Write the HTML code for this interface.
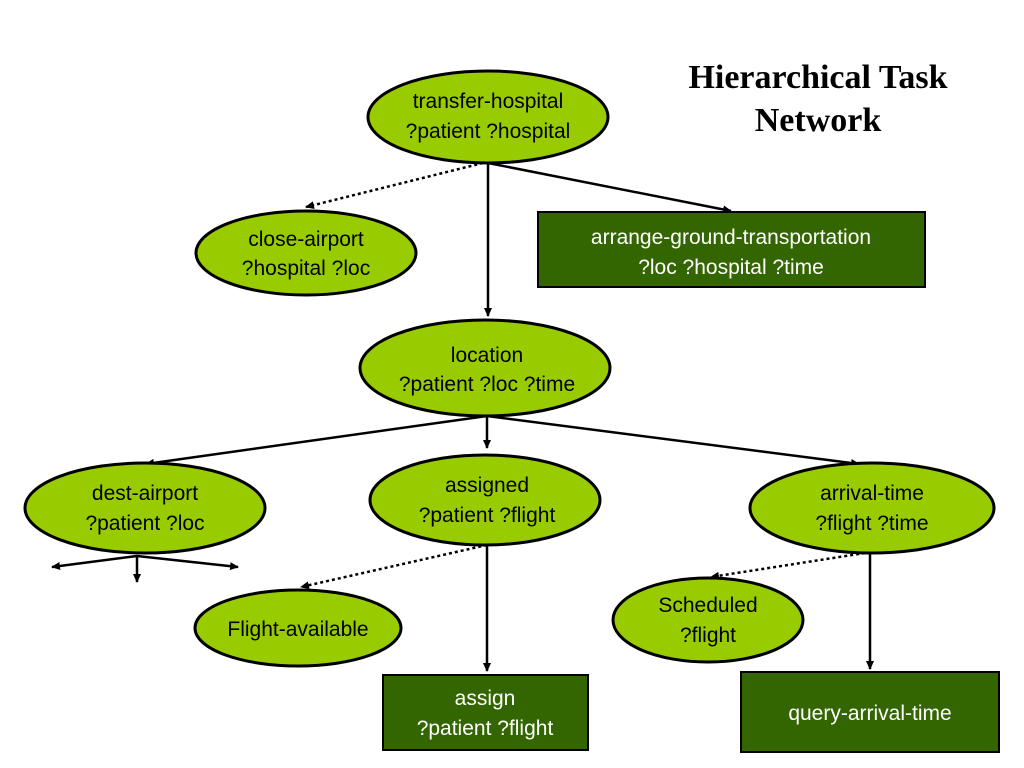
<!DOCTYPE html>
<html><head><meta charset="utf-8"><style>html,body{margin:0;padding:0;background:#fff}svg{display:block}</style></head>
<body>
<svg width="1024" height="768" viewBox="0 0 1024 768" xmlns="http://www.w3.org/2000/svg">
<defs>
<marker id="a" markerWidth="10" markerHeight="10" refX="8" refY="5" orient="auto" markerUnits="userSpaceOnUse"><path d="M0,1 L9,5 L0,9 z" fill="#000"/></marker>
</defs>
<text x="818" y="88" font-family="Liberation Serif, serif" font-weight="bold" font-size="34" text-anchor="middle">Hierarchical Task</text>
<text x="818" y="131" font-family="Liberation Serif, serif" font-weight="bold" font-size="34" text-anchor="middle">Network</text>
<g stroke="#000" stroke-width="2.5" fill="none">
<line x1="488" y1="163" x2="488" y2="316" marker-end="url(#a)"/>
<line x1="483" y1="163" x2="306" y2="207" stroke-dasharray="3,3" marker-end="url(#a)"/>
<line x1="488" y1="163" x2="731" y2="211" marker-end="url(#a)"/>
<line x1="487" y1="416" x2="487" y2="448" marker-end="url(#a)"/>
<line x1="487" y1="416" x2="146" y2="464" marker-end="url(#a)"/>
<line x1="487" y1="416" x2="859" y2="464" marker-end="url(#a)"/>
<line x1="487" y1="545" x2="487" y2="671" marker-end="url(#a)"/>
<line x1="487" y1="545" x2="301" y2="587" stroke-dasharray="3,3" marker-end="url(#a)"/>
<line x1="870" y1="553" x2="870" y2="669" marker-end="url(#a)"/>
<line x1="865" y1="553" x2="711" y2="577" stroke-dasharray="3,3" marker-end="url(#a)"/>
<line x1="137" y1="556" x2="52" y2="567" marker-end="url(#a)"/>
<line x1="137" y1="556" x2="137" y2="582" marker-end="url(#a)"/>
<line x1="137" y1="556" x2="238" y2="567" marker-end="url(#a)"/>
</g>
<g fill="#99cc00" stroke="#000" stroke-width="3">
<ellipse cx="488" cy="117" rx="120" ry="46"/>
<ellipse cx="306" cy="253" rx="110" ry="42"/>
<ellipse cx="485" cy="368" rx="125" ry="48"/>
<ellipse cx="145" cy="508" rx="120" ry="45"/>
<ellipse cx="485" cy="500" rx="115" ry="45"/>
<ellipse cx="872" cy="508" rx="122" ry="45"/>
<ellipse cx="298" cy="628" rx="103" ry="38"/>
<ellipse cx="708" cy="620" rx="95" ry="42"/>
</g>
<g fill="#336600" stroke="#000" stroke-width="2">
<rect x="538" y="212" width="387" height="75"/>
<rect x="383" y="675" width="205" height="75"/>
<rect x="741" y="672" width="258" height="80"/>
</g>
<g font-family="Liberation Sans, sans-serif" font-size="21" text-anchor="middle" fill="#000">
<text x="488" y="108">transfer-hospital</text><text x="488" y="138">?patient ?hospital</text>
<text x="306" y="246">close-airport</text><text x="306" y="275">?hospital ?loc</text>
<text x="487" y="362">location</text><text x="487" y="391">?patient ?loc ?time</text>
<text x="145" y="500">dest-airport</text><text x="145" y="530">?patient ?loc</text>
<text x="487" y="492">assigned</text><text x="487" y="522">?patient ?flight</text>
<text x="872" y="500">arrival-time</text><text x="872" y="530">?flight ?time</text>
<text x="298" y="636">Flight-available</text>
<text x="708" y="612">Scheduled</text><text x="708" y="642">?flight</text>
</g>
<g font-family="Liberation Sans, sans-serif" font-size="21" text-anchor="middle" fill="#fff">
<text x="731" y="244">arrange-ground-transportation</text><text x="731" y="274">?loc ?hospital ?time</text>
<text x="485" y="705">assign</text><text x="485" y="735">?patient ?flight</text>
<text x="870" y="720">query-arrival-time</text>
</g>
</svg>
</body></html>
